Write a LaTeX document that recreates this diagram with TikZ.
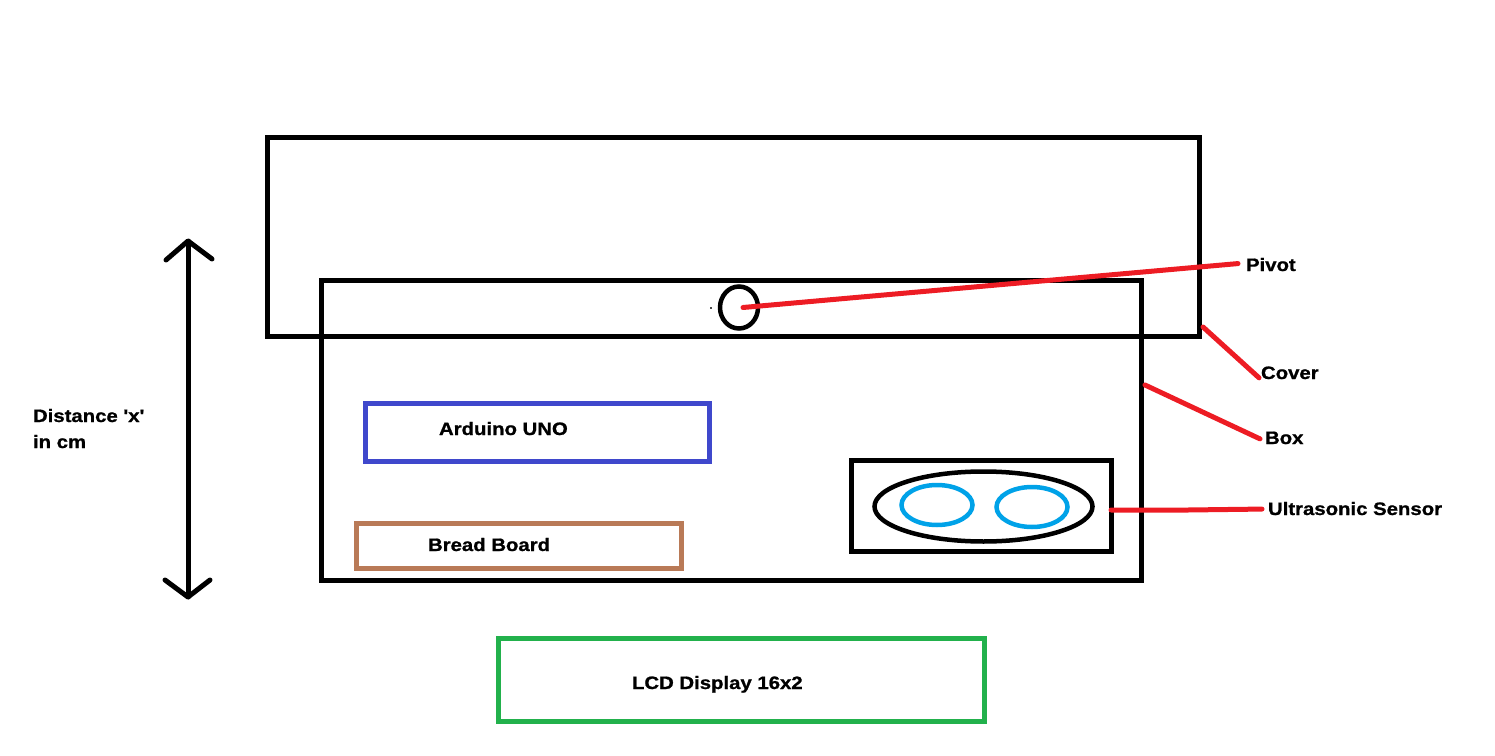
\documentclass[tikz,border=0pt]{standalone}
\usepackage{fontspec}
\setmainfont{Liberation Sans}
\newfontfamily\lblfont[BoldFeatures={FakeStretch=1.13,FakeBold=1}]{Liberation Sans}
\usetikzlibrary{shapes.geometric,calc}
\definecolor{pblue}{HTML}{3F48CC}
\definecolor{pbrown}{HTML}{B97A57}
\definecolor{pgreen}{HTML}{22B14C}
\definecolor{pred}{HTML}{ED1C24}
\definecolor{pcyan}{HTML}{00A2E8}
\newlength{\px}\setlength{\px}{0.75pt}
\tikzset{
  x=\px,y=-\px,
  boxed/.style={draw=#1,line width=5\px,rectangle,inner sep=0pt,outer sep=0pt,anchor=north west},
  oval/.style={draw=#1,line width=4.5\px,ellipse,inner sep=0pt,outer sep=0pt},
  lbl/.style={inner sep=0pt,outer sep=0pt,anchor=base west,font=\lblfont\fontsize{13.5pt}{15pt}\selectfont\bfseries},
  redline/.style={draw=pred,line width=5\px,line cap=round,line join=round},
  blackline/.style={draw=black,line width=5\px,line cap=round,line join=round}
}
\newcommand{\rectnode}[6]{\node[boxed=#2,minimum width=#5\px-#3\px,minimum height=#6\px-#4\px] (#1) at (#3,#4) {};}
\begin{document}
\begin{tikzpicture}
\useasboundingbox (0,0) rectangle (1495,756);
\rectnode{cover}{black}{267.5}{138}{1199}{336}
\rectnode{box}{black}{321.5}{280}{1141.5}{580}
\rectnode{arduino}{pblue}{365}{403}{709}{461}
\rectnode{bread}{pbrown}{356}{523}{681}{568}
\rectnode{lcd}{pgreen}{498}{638}{984}{721}
\rectnode{sensor}{black}{851}{460}{1111}{551}
\node[oval=black,minimum width=218\px,minimum height=70\px] (housing) at (983.5,506.5) {};
\node[oval=pcyan,minimum width=71\px,minimum height=40\px] (eyeL) at (937,505) {};
\node[oval=pcyan,minimum width=71\px,minimum height=40\px] (eyeR) at (1032,507) {};
\node[oval=black,minimum width=38\px,minimum height=42\px] (pivot) at (739,307.5) {};
\node[fill=black!70,inner sep=0pt,minimum size=1.5\px] (speck) at (711,308) {};
\node[lbl] (tPivot) at (1246,271) {Pivot};
\node[lbl] (tCover) at (1261,379) {Cover};
\node[lbl] (tBox) at (1265,444) {Box};
\node[lbl] (tSensor) at (1268,515) {Ultrasonic Sensor};
\node[lbl] (tArduino) at (439,435) {Arduino UNO};
\node[lbl] (tBread) at (428,551) {Bread Board};
\node[lbl] (tLcd) at (632,689) {LCD Display 16x2};
\node[lbl] (tDist) at (33,422) {Distance \symbol{39}x\symbol{39}};
\node[lbl] (tCm) at (33,448) {in cm};
\draw[redline] ([xshift=4\px]pivot.center) -- ([shift={(-8,-1)}]tPivot.west);
\draw[redline] ([shift={(4,-9)}]cover.south east) -- ([shift={(-2,5)}]tCover.west);
\draw[redline] ([shift={(3.5,-45)}]box.east) -- ([shift={(-5,1)}]tBox.west);
\draw[redline] ([yshift=-4.5\px]sensor.east) -- (1188,510) -- ([shift={(-6,0.5)}]tSensor.west);
\coordinate (up) at (188,241);
\coordinate (down) at (188,597);
\draw[blackline] (up) -- (down);
\draw[blackline] (166,260) -- (up) -- (212,259);
\draw[blackline] (165,580) -- (down) -- (210,580);
\end{tikzpicture}
\end{document}
